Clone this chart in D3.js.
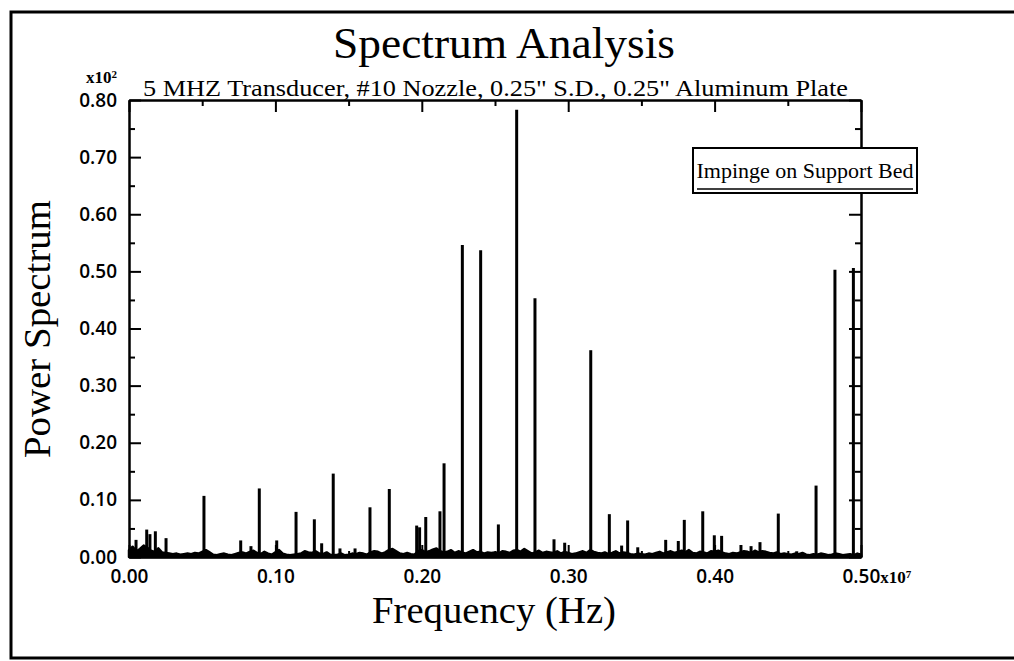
<!DOCTYPE html>
<html>
<head>
<meta charset="utf-8">
<script src="https://d3js.org/d3.v7.min.js"></script>
<style>
  body { margin: 0; background: #fff; }
  svg { display: block; }
  .tick text { font-family: "Open Sans", sans-serif; font-weight: 600; font-size: 19px; fill: #000; }
  .axis path, .axis line { stroke: #000; stroke-width: 2; }
</style>
</head>
<body>
<script>
// ---- data (power in x10^2, frequency in x10^7 Hz) ----
var yMajor = [0, 0.1, 0.2, 0.3, 0.4, 0.5, 0.6, 0.7, 0.8];
var yMinor = [0.05, 0.15, 0.25, 0.35, 0.45, 0.55, 0.65, 0.75];
var xMajor = [0, 0.1, 0.2, 0.3, 0.4, 0.5];
var xMinor = [0.05, 0.15, 0.25, 0.35, 0.45];

// spectral lines
var peakFreq = [0.0048, 0.0121, 0.0143, 0.018, 0.0253, 0.0512, 0.0763, 0.0833, 0.089, 0.1009,
  0.1141, 0.1266, 0.1316, 0.1395, 0.1441, 0.1544, 0.1646, 0.1778, 0.1965, 0.1985,
  0.2027, 0.2124, 0.2152, 0.2277, 0.2402, 0.2523, 0.2648, 0.2773, 0.2903, 0.2976,
  0.3154, 0.3281, 0.3365, 0.3406, 0.3475, 0.3666, 0.3752, 0.3793, 0.3919, 0.3998,
  0.4048, 0.418, 0.4249, 0.431, 0.4435, 0.4561, 0.4693, 0.4822, 0.4948];
var peakPower = [0.030, 0.048, 0.040, 0.045, 0.033, 0.107, 0.029, 0.019, 0.120, 0.029,
  0.079, 0.066, 0.024, 0.146, 0.015, 0.015, 0.087, 0.119, 0.055, 0.052,
  0.070, 0.080, 0.164, 0.546, 0.537, 0.057, 0.783, 0.453, 0.031, 0.025,
  0.362, 0.075, 0.020, 0.064, 0.017, 0.030, 0.028, 0.065, 0.080, 0.038,
  0.037, 0.021, 0.019, 0.026, 0.076, 0.010, 0.125, 0.503, 0.506];

// noise floor, one value every 0.0025
var noiseStep = 0.0025;
var noisePower = [
  0.012,0.018,0.010,0.014,0.020,0.016,0.011,0.009,0.015,0.008,0.007,0.006,0.005,0.006,0.004,0.005,0.006,0.005,0.007,0.006,
  0.009,0.012,0.008,0.004,0.003,0.005,0.006,0.004,0.003,0.005,0.007,0.008,0.006,0.009,0.011,0.007,0.005,0.009,0.006,0.004,
  0.008,0.012,0.006,0.004,0.003,0.004,0.005,0.006,0.010,0.008,0.007,0.010,0.006,0.005,0.008,0.004,0.003,0.004,0.006,0.003,
  0.004,0.006,0.005,0.007,0.006,0.004,0.008,0.010,0.009,0.006,0.008,0.012,0.014,0.010,0.006,0.005,0.007,0.005,0.004,0.010,
  0.012,0.008,0.010,0.013,0.015,0.010,0.008,0.009,0.012,0.007,0.010,0.008,0.006,0.009,0.012,0.008,0.009,0.006,0.008,0.007,
  0.008,0.006,0.010,0.009,0.007,0.011,0.012,0.009,0.014,0.010,0.006,0.008,0.011,0.007,0.009,0.008,0.007,0.010,0.006,0.009,
  0.007,0.005,0.006,0.008,0.010,0.007,0.012,0.009,0.007,0.006,0.008,0.005,0.007,0.010,0.006,0.008,0.007,0.005,0.004,0.006,
  0.005,0.004,0.006,0.005,0.007,0.009,0.006,0.008,0.010,0.007,0.009,0.011,0.008,0.012,0.007,0.006,0.009,0.008,0.006,0.010,
  0.009,0.011,0.008,0.006,0.005,0.007,0.006,0.008,0.010,0.009,0.007,0.011,0.008,0.010,0.009,0.007,0.006,0.008,0.005,0.006,
  0.005,0.004,0.006,0.005,0.007,0.004,0.003,0.005,0.004,0.006,0.005,0.003,0.004,0.006,0.005,0.003,0.004,0.005,0.003,0.006,
  0.004];

var width = 1014, height = 661;
var serif = "'Liberation Serif', 'Times New Roman', serif";

var svg = d3.select("body").append("svg")
    .attr("width", width)
    .attr("height", height);

// outer frame (left, top, bottom)
svg.append("path")
    .attr("d", "M1014,12H11V658H1014")
    .attr("fill", "none")
    .attr("stroke", "#000")
    .attr("stroke-width", 3);

var x = d3.scaleLinear().domain([0, 0.5]).range([129, 861]),
    y = d3.scaleLinear().domain([0, 0.8]).range([557, 100]);

// noise floor
var noise = noisePower.map(function(v, i) { return [i * noiseStep, v]; });
svg.append("path")
    .datum(noise)
    .attr("fill", "#000")
    .attr("stroke", "#000")
    .attr("stroke-width", 2.5)
    .attr("stroke-linejoin", "round")
    .attr("d", d3.area()
      .x(function(d) { return x(d[0]); })
      .y0(y(0))
      .y1(function(d) { return y(d[1]); }));

// spectral lines
svg.append("g")
    .selectAll("line")
    .data(peakFreq)
  .enter().append("line")
    .attr("x1", function(d) { return x(d); })
    .attr("x2", function(d) { return x(d); })
    .attr("y1", y(0))
    .attr("y2", function(d, i) { return y(peakPower[i]); })
    .attr("stroke", "#000")
    .attr("stroke-width", 3);

// axes, ticks pointing inward on all four sides
function addAxis(axisFn, scale, major, minor, translate, labels) {
  var g = svg.append("g").attr("class", "axis").attr("transform", translate);
  g.call(axisFn(scale).tickValues(minor).tickSize(-6).tickSizeOuter(0).tickFormat(""));
  var gm = svg.append("g").attr("class", "axis").attr("transform", translate);
  gm.call(axisFn(scale).tickValues(major).tickSize(-12).tickSizeOuter(0)
      .tickPadding(12).tickFormat(labels ? d3.format(".2f") : ""));
  return gm;
}

addAxis(d3.axisLeft, y, yMajor, yMinor, "translate(129,0)", true);
addAxis(d3.axisRight, y, yMajor, yMinor, "translate(861,0)", false);
addAxis(d3.axisTop, x, xMajor, xMinor, "translate(0,100)", false);
var bottom = addAxis(d3.axisBottom, x, xMajor, xMinor, "translate(0,557)", true);
bottom.selectAll(".tick text").attr("y", 13);

// last x label carries the exponent
var last = bottom.selectAll(".tick text").filter(function(d) { return d === 0.5; });
last.attr("text-anchor", "start").attr("x", -19);
last.append("tspan").text("x10").style("font-weight", 700).style("font-family", serif).style("font-size", "17px");
last.append("tspan").text("7").attr("dy", "-0.5em").style("font-size", "11px").style("font-family", serif);

// y exponent
var yExp = svg.append("text")
    .attr("x", 117).attr("y", 83)
    .attr("text-anchor", "end")
    .style("font-family", serif)
    .style("font-weight", "bold")
    .style("font-size", "17px");
yExp.append("tspan").text("x10");
yExp.append("tspan").text("2").attr("dy", "-0.5em").style("font-size", "11px");

// titles
svg.append("text")
    .attr("x", 504).attr("y", 58)
    .attr("text-anchor", "middle")
    .attr("textLength", 342).attr("lengthAdjust", "spacingAndGlyphs")
    .style("font-family", serif).style("font-size", "44px")
    .text("Spectrum Analysis");

svg.append("text")
    .attr("x", 495.5).attr("y", 96)
    .attr("text-anchor", "middle")
    .attr("textLength", 705).attr("lengthAdjust", "spacingAndGlyphs")
    .style("font-family", serif).style("font-size", "23.5px")
    .text("5 MHZ Transducer, #10 Nozzle, 0.25\" S.D., 0.25\" Aluminum Plate");

svg.append("text")
    .attr("x", 494).attr("y", 623)
    .attr("text-anchor", "middle")
    .attr("textLength", 244).attr("lengthAdjust", "spacingAndGlyphs")
    .style("font-family", serif).style("font-size", "37px")
    .text("Frequency (Hz)");

svg.append("text")
    .attr("transform", "translate(50,329) rotate(-90)")
    .attr("text-anchor", "middle")
    .attr("textLength", 258).attr("lengthAdjust", "spacingAndGlyphs")
    .style("font-family", serif).style("font-size", "38px")
    .text("Power Spectrum");

// legend box
var legend = svg.append("g");
legend.append("rect")
    .attr("x", 693).attr("y", 148)
    .attr("width", 224).attr("height", 45)
    .attr("fill", "#fff")
    .attr("stroke", "#000")
    .attr("stroke-width", 2);
legend.append("line")
    .attr("x1", 697).attr("x2", 913)
    .attr("y1", 189).attr("y2", 189)
    .attr("stroke", "#000")
    .attr("stroke-width", 1.5);
legend.append("text")
    .attr("x", 805).attr("y", 178)
    .attr("text-anchor", "middle")
    .style("font-family", serif).style("font-size", "22px")
    .text("Impinge on Support Bed");
</script>
</body>
</html>
